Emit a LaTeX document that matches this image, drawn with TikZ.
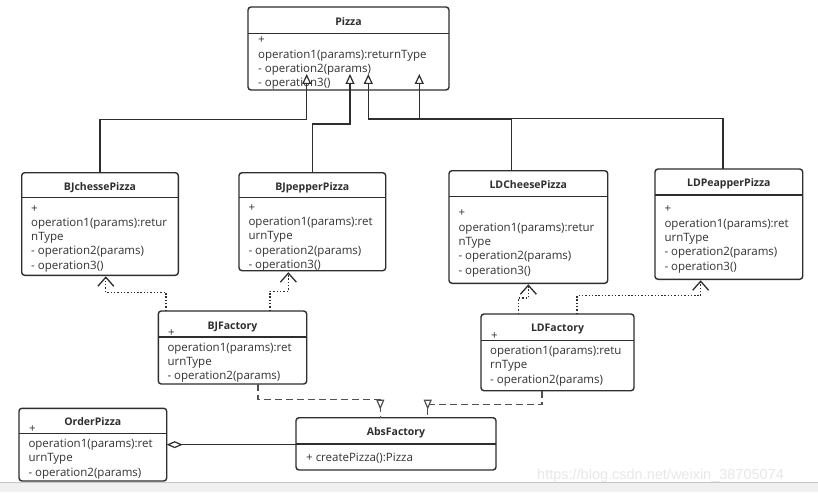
\documentclass[tikz,border=0pt]{standalone}
\usepackage{fontspec}
\setmainfont{Open Sans}
\newfontfamily\wmfont{Liberation Sans}
\usetikzlibrary{arrows.meta,calc,decorations.markings}
\definecolor{ink}{HTML}{2E2E2E}
\definecolor{txt}{HTML}{333333}
\definecolor{dashc}{HTML}{505050}
\definecolor{band}{HTML}{F0F0F0}
\tikzset{
  cls/.style={draw=ink, line width=1.4pt, rounded corners=3pt, anchor=north west, inner sep=0pt, outer sep=0pt, fill=white},
  ttl/.style={font=\fontsize{10.5}{12}\selectfont\bfseries, text=ink, inner sep=0pt, anchor=base},
  body/.style={font=\fontsize{11.5}{14.3}\selectfont, text=txt, align=left, anchor=north west, inner sep=0pt},
  plus/.style={font=\fontsize{11.5}{14.3}\selectfont, text=txt, anchor=base west, inner sep=0pt},
  sepline/.style={draw=ink, line width=1.4pt},
  inh/.style={draw=ink, line width=1.4pt, -{Triangle[length=10pt,width=9pt,fill=white,line width=1.2pt]}},
  real/.style={draw=ink, line width=1.3pt, dash pattern=on 1.4pt off 1.9pt, -{Straight Barb[length=9pt,width=16pt,line width=1.3pt]}},
  depend/.style={draw=dashc, line width=1.4pt, dash pattern=on 7pt off 4pt,
    postaction={decorate, decoration={markings, mark=at position -8pt with {\arrow[dashc, line width=1.2pt]{Triangle[length=10pt,width=8pt,fill=white]}}}}},
  agg/.style={draw=ink, line width=1.3pt, {Diamond[length=16pt,width=7pt,fill=white,line width=1.2pt]}-},
}
\begin{document}
\begin{tikzpicture}[x=1pt,y=-1pt]
\useasboundingbox (0,0) rectangle (818,492);
\fill[white] (0,0) rectangle (818,492);
\fill[band] (0,482) rectangle (818,492);
\draw[gray!45, line width=1pt] (0,482) -- (818,482);
\node[font=\wmfont\fontsize{14.5}{16}\selectfont, text=gray!18, anchor=base west, inner sep=0pt] (wm) at (537,479) {https://blog.csdn.net/weixin\_38705074};

% ---------- Pizza
\node[cls, minimum width=201pt, minimum height=83pt] (pizza) at (248,7) {};
\draw[sepline] ($(pizza.north west)+(0,26.3)$) -- ($(pizza.north east)+(0,26.3)$);
\node[ttl] (pizzaT) at (348.5,26) {Pizza};
\node[body] (pizzaB) at (258,33.6) {\strut +\\operation1(params):returnType\\- operation2(params)\\- operation3()};

% ---------- BJchessePizza
\node[cls, minimum width=156.6pt, minimum height=102.6pt] (bjc) at (21.7,172.7) {};
\draw[sepline] ($(bjc.north west)+(0,25)$) -- ($(bjc.north east)+(0,25)$);
\node[ttl] (bjcT) at (100,190.5) {BJchessePizza};
\node[body] (bjcB) at (31,201.8) {\strut +\\operation1(params):retur\\nType\\- operation2(params)\\- operation3()};

% ---------- BJpepperPizza
\node[cls, minimum width=146.7pt, minimum height=98pt] (bjp) at (239,172.7) {};
\draw[sepline] ($(bjp.north west)+(0,24.6)$) -- ($(bjp.north east)+(0,24.6)$);
\node[ttl] (bjpT) at (312.3,190.3) {BJpepperPizza};
\node[body] (bjpB) at (248.3,200.9) {\strut +\\operation1(params):ret\\urnType\\- operation2(params)\\- operation3()};

% ---------- LDCheesePizza
\node[cls, minimum width=158.7pt, minimum height=112.6pt] (ldc) at (449,170.7) {};
\draw[sepline] ($(ldc.north west)+(0,26)$) -- ($(ldc.north east)+(0,26)$);
\node[ttl] (ldcT) at (528.3,188.3) {LDCheesePizza};
\node[body] (ldcB) at (458.3,206.6) {\strut +\\operation1(params):retur\\nType\\- operation2(params)\\- operation3()};

% ---------- LDPeapperPizza
\node[cls, minimum width=147.7pt, minimum height=110.3pt] (ldp) at (655,169) {};
\draw[sepline] ($(ldp.north west)+(0,26)$) -- ($(ldp.north east)+(0,26)$);
\node[ttl] (ldpT) at (728.8,186.7) {LDPeapperPizza};
\node[body] (ldpB) at (664.3,202.6) {\strut +\\operation1(params):ret\\urnType\\- operation2(params)\\- operation3()};

% ---------- BJFactory
\node[cls, minimum width=148.4pt, minimum height=73pt] (bjf) at (158.3,311) {};
\draw[sepline] ($(bjf.north west)+(0,26)$) -- ($(bjf.north east)+(0,26)$);
\node[ttl] (bjfT) at (232.5,329) {BJFactory};
\node[plus] (bjfP) at (168,336) {+};
\node[body] (bjfB) at (167.3,340.8) {\strut operation1(params):ret\\urnType\\- operation2(params)};

% ---------- LDFactory
\node[cls, minimum width=153pt, minimum height=76.7pt] (ldf) at (481,314) {};
\draw[sepline] ($(ldf.north west)+(0,26.7)$) -- ($(ldf.north east)+(0,26.7)$);
\node[ttl] (ldfT) at (557.5,331.7) {LDFactory};
\node[plus] (ldfP) at (491,339.5) {+};
\node[body] (ldfB) at (490,344.4) {\strut operation1(params):retu\\rnType\\- operation2(params)};

% ---------- OrderPizza
\node[cls, minimum width=147.7pt, minimum height=72.7pt] (order) at (19,408.3) {};
\draw[sepline] ($(order.north west)+(0,25)$) -- ($(order.north east)+(0,25)$);
\node[ttl] (orderT) at (92.8,425.7) {OrderPizza};
\node[plus] (orderP) at (29,432) {+};
\node[body] (orderB) at (28.3,437.4) {\strut operation1(params):ret\\urnType\\- operation2(params)};

% ---------- AbsFactory
\node[cls, minimum width=200pt, minimum height=52.3pt] (abs) at (296,417.7) {};
\draw[sepline] ($(abs.north west)+(0,26.3)$) -- ($(abs.north east)+(0,26.3)$);
\node[ttl] (absT) at (396,435.7) {AbsFactory};
\node[plus] (absB) at (306,461) {+ createPizza():Pizza};

% ---------- inheritance
\draw[inh] (bjc.north) |- ($(pizza.south)+(-41.8,29.5)$) -- ($(pizza.south)+(-41.8,-16)$);
\draw[inh] (bjp.north) |- ($(pizza.south)+(1.5,34)$) -- ($(pizza.south)+(1.5,-16)$);
\draw[inh] ($(ldc.north)+(-16.6,0)$) |- ($(pizza.south)+(19.8,29)$) -- ($(pizza.south)+(19.8,-16)$);
\draw[inh] ($(ldp.north)+(-6,0)$) |- ($(pizza.south)+(70.8,28.5)$) -- ($(pizza.south)+(70.8,-16)$);

% ---------- realization
\draw[real] ($(bjf.north west)+(7.7,0)$) |- ($(bjc.south)+(5.8,17)$) -- ($(bjc.south)+(5.8,1)$);
\draw[real] ($(bjf.north west)+(111.7,0)$) |- ($(bjp.south)+(-24,20.5)$) -- ($(bjp.south)+(-24,1.5)$);
\draw[real] ($(ldf.north west)+(37.5,0)$) |- ($(ldc.south)+(0,14.7)$) -- ($(ldc.south)+(0,1)$);
\draw[real] ($(ldf.north west)+(96,0)$) |- ($(ldp.south)+(-28.2,16.5)$) -- ($(ldp.south)+(-28.2,1)$);

% ---------- dependency
\draw[depend] ($(bjf.south)+(25.5,0)$) |- ($(abs.north)+(-15.7,-18)$) -- ($(abs.north)+(-15.7,0)$);
\draw[depend] ($(ldf.south)+(-15.5,0)$) |- ($(abs.north)+(31.7,-13.5)$) -- ($(abs.north)+(31.7,0)$);

% ---------- aggregation
\draw[agg] (order.east) -- (order.east -| abs.west);
\end{tikzpicture}
\end{document}
